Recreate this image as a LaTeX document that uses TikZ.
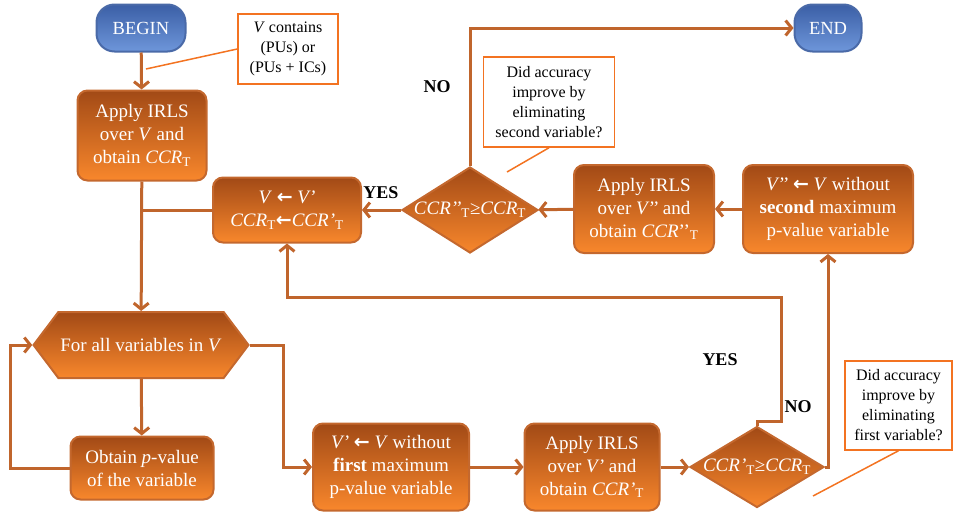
\documentclass[tikz,border=0pt]{standalone}
\usepackage{fontspec}
\setmainfont{Liberation Serif}
\newfontfamily\symfont{DejaVu Sans}
\usetikzlibrary{shapes.geometric,shapes.symbols,arrows.meta}
\definecolor{boxtop}{HTML}{A24A16}
\definecolor{boxbot}{HTML}{F8872C}
\definecolor{boxedge}{HTML}{C4682E}
\definecolor{flow}{HTML}{C0652C}
\definecolor{termtop}{HTML}{3B5FA6}
\definecolor{termbot}{HTML}{6E96DA}
\definecolor{termedge}{HTML}{4A6AA8}
\definecolor{noteedge}{HTML}{F37321}
\newcommand{\sbT}{\textsubscript{T}}
\newcommand{\assignarrow}{{\symfont\bfseries ←}}
\begin{document}
\begin{tikzpicture}[x=1pt,y=-1pt,
  proc/.style={draw=boxedge, line width=2pt, rounded corners=10pt,
    top color=boxtop, bottom color=boxbot, text=white, align=center,
    font=\fontsize{19}{23}\selectfont, inner sep=0pt},
  term/.style={draw=termedge, line width=2pt, rounded corners=18pt,
    top color=termtop, bottom color=termbot, text=white,
    font=\fontsize{18.5}{22}\selectfont, inner sep=0pt},
  decide/.style={diamond, draw=boxedge, line width=2pt,
    top color=boxtop, bottom color=boxbot, inner sep=0pt},
  dtext/.style={text=white, font=\fontsize{19}{23}\selectfont\itshape, inner sep=0pt},
  loopbox/.style={signal, signal to=west and east, signal pointer angle=106,
    draw=boxedge, line width=2pt, top color=boxtop, bottom color=boxbot,
    text=white, font=\fontsize{19}{23}\selectfont, inner sep=0pt},
  note/.style={draw=noteedge, line width=1.5pt, fill=white, align=center,
    font=\fontsize{16}{20}\selectfont, inner sep=0pt},
  callout/.style={draw=noteedge, line width=1.5pt},
  flowline/.style={draw=flow, line width=3pt},
  arr/.style={flowline, -{Straight Barb[length=6pt,width=15pt]}},
  lbl/.style={font=\bfseries\fontsize{18}{20}\selectfont, inner sep=0pt}
]
\useasboundingbox (0,0) rectangle (953,514);

% terminals
\node[term, minimum width=89pt, minimum height=47pt] (begin) at (141,28) {BEGIN};
\node[term, minimum width=67pt, minimum height=47pt] (end) at (828,28) {END};

% process boxes
\node[proc, minimum width=129pt, minimum height=90pt] (irls) at (142,135.5)
  {Apply IRLS\\over \textit{V} and\\obtain \textit{CCR}\sbT};
\node[proc, minimum width=148pt, minimum height=65pt] (swap) at (287,210)
  {\textit{V} \assignarrow\ \textit{V’}\\\textit{CCR}\sbT\assignarrow\textit{CCR’}\sbT};
\node[proc, minimum width=140pt, minimum height=88pt] (irlsB) at (644,209)
  {Apply IRLS\\over \textit{V’’} and\\obtain \textit{CCR}’’\sbT};
\node[proc, minimum width=170pt, minimum height=88pt] (dropB) at (828,209)
  {\textit{V’’} \assignarrow\ \textit{V} without\\\textbf{second} maximum\\p-value variable};
\node[loopbox, minimum width=215pt, minimum height=66pt] (forall) at (141,345)
  {For all variables in \textit{V}};
\node[proc, minimum width=143pt, minimum height=63pt] (pval) at (142,468)
  {Obtain \textit{p}-value\\of the variable};
\node[proc, minimum width=156pt, minimum height=87pt] (dropA) at (391,467)
  {\textit{V’} \assignarrow\ \textit{V} without\\\textbf{first} maximum\\p-value variable};
\node[proc, minimum width=135pt, minimum height=87pt] (irlsA) at (592,467)
  {Apply IRLS\\over \textit{V’} and\\obtain \textit{CCR’}\sbT};

% decisions
\node[decide, minimum width=136pt, minimum height=86pt] (decB) at (470,210) {};
\node[dtext] (decBt) at (decB) {CCR’’\textsubscript{\upshape T}\upshape≥\itshape CCR\textsubscript{\upshape T}};
\node[decide, minimum width=134pt, minimum height=81pt] (decA) at (757,467) {};
\node[dtext] (decAt) at (decA) {CCR’\textsubscript{\upshape T}\upshape≥\itshape CCR\textsubscript{\upshape T}};

% notes
\node[note, minimum width=100pt, minimum height=70pt] (note1) at (288,49)
  {\textit{V} contains\\(PUs) or\\(PUs + ICs)};
\node[note, minimum width=131pt, minimum height=90pt] (note2) at (549,102)
  {Did accuracy\\improve by\\eliminating\\second variable?};
\node[note, minimum width=107pt, minimum height=89pt] (note3) at (898.5,405.5)
  {Did accuracy\\improve by\\eliminating\\first variable?};
\coordinate (c1) at (146,69);
\coordinate (c2) at (507,172);
\coordinate (c3) at (813,496);
\draw[callout] (c1) -- (note1.west);
\draw[callout] (c2) -- (note2.south);
\draw[callout] (c3) -- (note3.south);

% connectors
\draw[arr] (begin) -- (irls);
\draw[arr] (irls) -- (forall);
\draw[flowline] (swap.west) -- (irls.south |- swap.west);
\draw[arr] (forall) -- (pval);
\coordinate (loopL) at (10,345);
\draw[arr] (pval.west) -| (loopL) -- (forall.west);
\coordinate (loopR) at (283,345);
\draw[arr] (forall.east) -- (loopR) |- (dropA.west);
\draw[arr] (dropA) -- (irlsA);
\draw[arr] (irlsA) -- (decA);
\coordinate (yesA) at (781,297);
\draw[arr] (decA.north) -- ++(0,-4) -| (yesA) -| (swap.south);
\draw[arr] (decA.east) -| (dropB.south);
\draw[arr] (dropB) -- (irlsB);
\draw[arr] (irlsB) -- (decB);
\draw[arr] (decB) -- (swap);
\draw[arr] (decB.north) |- (end.west);

% branch labels
\node[lbl] (yes1) at (381,193) {YES};
\node[lbl] (no1) at (437,87) {NO};
\node[lbl] (yes2) at (720,360) {YES};
\node[lbl] (no2) at (798,407) {NO};
\end{tikzpicture}
\end{document}
